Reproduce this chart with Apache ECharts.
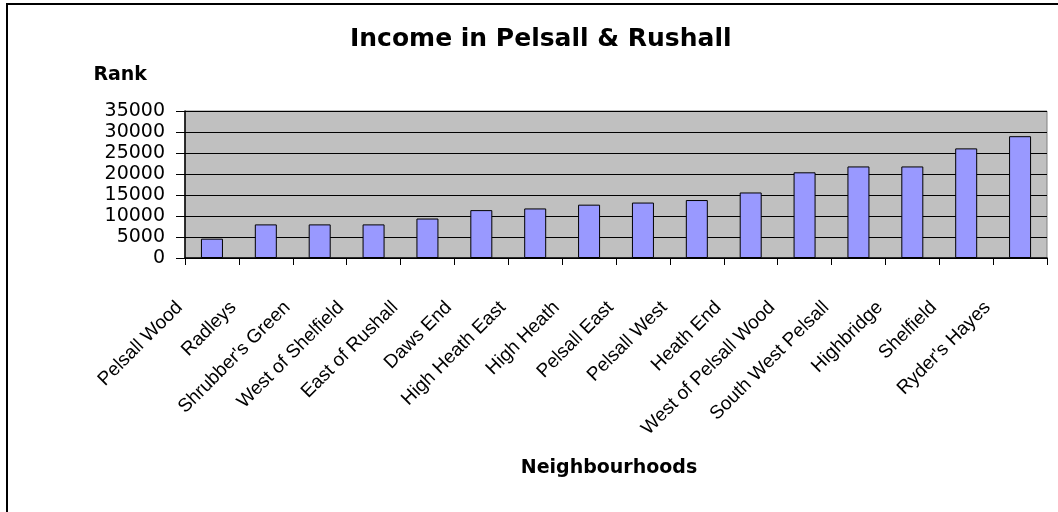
<!DOCTYPE html>
<html>
<head>
<meta charset="utf-8">
<title>Income in Pelsall &amp; Rushall</title>
<script src="https://cdn.jsdelivr.net/npm/echarts@6/dist/echarts.min.js"></script>
<style>
  html, body { margin: 0; padding: 0; background: #fff; }
  #chart { width: 1058px; height: 512px; }
</style>
</head>
<body>
<div id="chart"></div>
<script>
// neighbourhoods, lowest income rank first
const neighbourhoods = [
  'Pelsall Wood', 'Radleys', "Shrubber's Green", 'West of Shelfield',
  'East of Rushall', 'Daws End', 'High Heath East', 'High Heath',
  'Pelsall East', 'Pelsall West', 'Heath End', 'West of Pelsall Wood',
  'South West Pelsall', 'Highbridge', 'Shelfield', "Ryder's Hayes"
];
const incomeRank = [
  4600, 8000, 8000, 8000, 9400, 11400, 11800, 12700,
  13200, 13800, 15600, 20400, 21800, 21800, 26100, 29000
];
const rankMin = 0;
const rankMax = 35000;
const rankStep = 5000;

const chart = echarts.init(document.getElementById('chart'));

const option = {
  backgroundColor: '#ffffff',
  animation: false,
  title: {
    text: 'Income in Pelsall & Rushall',
    left: 345,
    top: 22,
    textStyle: {
      fontFamily: 'DejaVu Sans',
      fontSize: 25,
      fontWeight: 'bold',
      color: '#000'
    }
  },
  graphic: [{
    type: 'rect',
    shape: { x: 7, y: 4, width: 1100, height: 600 },
    style: { fill: 'none', stroke: '#000', lineWidth: 2 },
    silent: true
  }],
  grid: {
    left: 185,
    right: 11,
    top: 111,
    bottom: 254,
    show: true,
    backgroundColor: '#c0c0c0',
    borderColor: '#808080',
    borderWidth: 1
  },
  xAxis: {
    type: 'category',
    data: neighbourhoods,
    name: 'Neighbourhoods',
    nameLocation: 'middle',
    nameGap: 201,
    nameTextStyle: {
      fontFamily: 'DejaVu Sans',
      fontSize: 19,
      fontWeight: 'bold',
      color: '#000',
      padding: [0, 14, 0, 0]
    },
    axisLine: { show: true, lineStyle: { color: '#000', width: 1.5 } },
    axisTick: { show: true, alignWithLabel: false, length: 7, lineStyle: { color: '#000', width: 1 } },
    axisLabel: {
      interval: 0,
      rotate: 45,
      margin: 14,
      padding: [0, 46, 0, 0],
      fontFamily: 'Liberation Sans',
      fontSize: 19,
      color: '#000'
    }
  },
  yAxis: {
    type: 'value',
    min: rankMin,
    max: rankMax,
    interval: rankStep,
    name: 'Rank',
    nameLocation: 'end',
    nameGap: 26,
    nameTextStyle: {
      fontFamily: 'DejaVu Sans',
      fontSize: 19,
      fontWeight: 'bold',
      color: '#000',
      align: 'right',
      padding: [0, 38, 0, 0]
    },
    axisLine: { show: true, lineStyle: { color: '#000', width: 1.5 } },
    axisTick: { show: true, length: 9, lineStyle: { color: '#000' } },
    axisLabel: {
      margin: 20,
      formatter: (v) => String(v),
      fontFamily: 'DejaVu Sans',
      fontSize: 19,
      color: '#000'
    },
    splitLine: { show: true, lineStyle: { color: '#000', width: 1 } }
  },
  series: [{
    type: 'bar',
    data: incomeRank,
    barWidth: 22,
    itemStyle: {
      color: '#9999ff',
      borderColor: '#000',
      borderWidth: 1
    }
  }]
};

chart.setOption(option);
</script>
</body>
</html>
